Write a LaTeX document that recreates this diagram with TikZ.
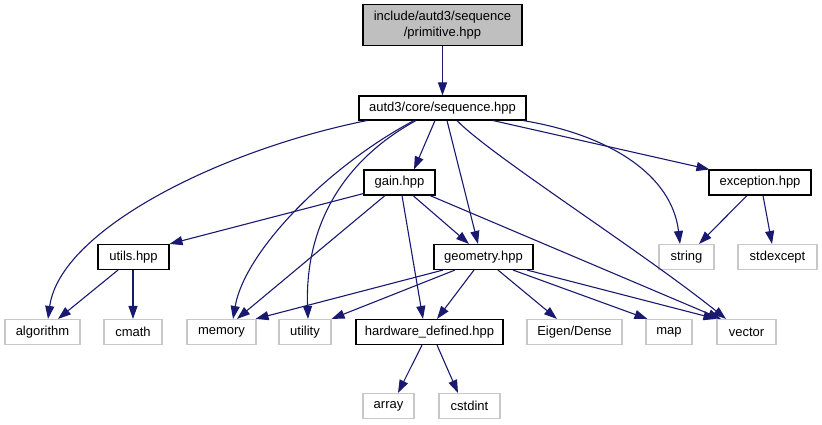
\documentclass[tikz,border=0pt]{standalone}
\usepackage{fontspec}
\setmainfont{Liberation Sans}
\usetikzlibrary{arrows.meta}
\definecolor{edgec}{HTML}{191970}
\definecolor{grayb}{HTML}{BFBFBF}
\definecolor{sysb}{HTML}{C8C8C8}
\begin{document}
\begin{tikzpicture}[x=1pt,y=-1pt,
  box/.style={draw=black, line width=1.1pt, fill=white, minimum height=25pt, inner sep=0pt, font=\fontsize{13}{16}\selectfont},
  sysbox/.style={box, draw=sysb},
  dep/.style={draw=edgec, line width=1.1pt, -{Triangle[length=13pt,width=9pt]}}]
\useasboundingbox (0,0) rectangle (822,425);
% nodes
\node[box, fill=grayb, minimum width=159pt, minimum height=41pt, align=center] (prim) at (442.5,25) {include/autd3/sequence\\/primitive.hpp};
\node[box, minimum width=167pt, minimum height=24pt] (seq) at (442.5,108) {autd3/core/sequence.hpp};
\node[box, minimum width=71pt] (gain) at (399.5,182.5) {gain.hpp};
\node[box, minimum width=102pt] (exc) at (760,182.5) {exception.hpp};
\node[box, minimum width=71pt] (utils) at (133.5,257) {utils.hpp};
\node[box, minimum width=99pt] (geom) at (483.5,257) {geometry.hpp};
\node[sysbox, minimum width=55pt] (string) at (686.5,257) {string};
\node[sysbox, minimum width=79pt] (stdexc) at (777.5,257) {stdexcept};
\node[sysbox, minimum width=75pt] (algo) at (42.5,332) {algorithm};
\node[sysbox, minimum width=58pt] (cmath) at (133,332) {cmath};
\node[sysbox, minimum width=69pt] (memory) at (221.5,332) {memory};
\node[sysbox, minimum width=52pt] (utility) at (305,332) {utility};
\node[box, minimum width=147pt] (hw) at (429.5,332) {hardware\_defined.hpp};
\node[sysbox, minimum width=95pt] (eigen) at (574.5,332) {Eigen/Dense};
\node[sysbox, minimum width=46pt] (map) at (669,332) {map};
\node[sysbox, minimum width=59pt] (vector) at (746.5,332) {vector};
\node[sysbox, minimum width=51pt] (array) at (388.5,406) {array};
\node[sysbox, minimum width=61pt] (cstdint) at (469.5,406) {cstdint};
% edges
\draw[dep] (prim.south) -- (prim.south |- seq.north);
\draw[dep] ([xshift=-75.5pt]seq.south) .. controls (220,150) and (60,230) .. ([xshift=5.5pt]algo.north);
\draw[dep] ([xshift=-28.5pt]seq.south) .. controls (330,165) and (245,250) .. ([xshift=11.5pt]memory.north);
\draw[dep] ([xshift=-26.5pt]seq.south) .. controls (335,165) and (305,235) .. ([xshift=3pt]utility.north);
\draw[dep] ([xshift=-7.5pt]seq.south) -- ([xshift=14.5pt]gain.north);
\draw[dep] ([xshift=4.5pt]seq.south) -- ([xshift=-5.5pt]geom.north);
\draw[dep] ([xshift=14.5pt]seq.south) .. controls (490,155) and (640,250) .. ([xshift=-20.5pt]vector.north);
\draw[dep] ([xshift=50.5pt]seq.south) -- ([xshift=1pt]exc.north west);
\draw[dep] ([xshift=80.5pt]seq.south) .. controls (610,135) and (672,175) .. ([xshift=-6.5pt]string.north);
% gain
\draw[dep] ([yshift=2pt]gain.south west) -- (utils.north east);
\draw[dep] ([xshift=-14.5pt]gain.south) -- ([xshift=15.5pt]memory.north);
\draw[dep] ([xshift=2.5pt]gain.south) -- ([xshift=-6.5pt]hw.north);
\draw[dep] ([xshift=13.5pt]gain.south) -- ([xshift=-14.5pt]geom.north);
\draw[dep] ([xshift=30.5pt]gain.south) -- ([xshift=-25.5pt]vector.north);
% utils
\draw[dep] ([xshift=-15.5pt]utils.south) -- ([xshift=15.5pt]algo.north);
\draw[dep] (utils.south -| cmath.north) -- (cmath.north);
% geometry
\draw[dep] ([xshift=-40.5pt]geom.south) -- ([xshift=-1pt]memory.north east);
\draw[dep] ([xshift=-28.5pt]geom.south) -- (utility.north east);
\draw[dep] ([xshift=-9.5pt]geom.south) -- ([xshift=7.5pt]hw.north);
\draw[dep] ([xshift=14.5pt]geom.south) -- ([xshift=-17.5pt]eigen.north);
\draw[dep] ([xshift=29.5pt]geom.south) -- ([xshift=2pt]map.north west);
\draw[dep] ([xshift=43.5pt]geom.south) -- (vector.north west);
% hardware
\draw[dep] ([xshift=-7.5pt]hw.south) -- ([xshift=9.5pt]array.north);
\draw[dep] ([xshift=7.5pt]hw.south) -- ([xshift=-11.5pt]cstdint.north);
% exception
\draw[dep] ([xshift=-13pt]exc.south) -- ([xshift=12.5pt]string.north);
\draw[dep] ([xshift=3pt]exc.south) -- ([xshift=-5.5pt]stdexc.north);
\end{tikzpicture}
\end{document}
